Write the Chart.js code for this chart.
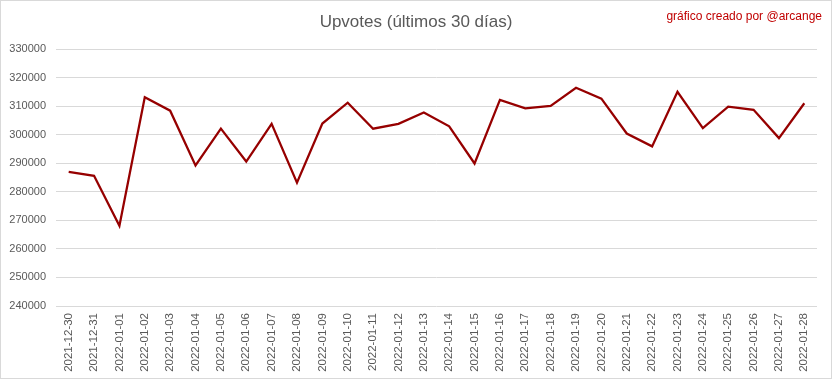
<!DOCTYPE html>
<html>
<head>
<meta charset="utf-8">
<script src="https://cdn.jsdelivr.net/npm/chart.js@4/dist/chart.umd.min.js"></script>
<style>
  body { margin: 0; background: #fff; }
  #wrap { width: 832px; height: 379px; position: relative; }
</style>
</head>
<body>
<div id="wrap"><canvas id="upvotes"></canvas></div>
<script>
const dias = [
  '2021-12-30', '2021-12-31', '2022-01-01', '2022-01-02', '2022-01-03',
  '2022-01-04', '2022-01-05', '2022-01-06', '2022-01-07', '2022-01-08',
  '2022-01-09', '2022-01-10', '2022-01-11', '2022-01-12', '2022-01-13',
  '2022-01-14', '2022-01-15', '2022-01-16', '2022-01-17', '2022-01-18',
  '2022-01-19', '2022-01-20', '2022-01-21', '2022-01-22', '2022-01-23',
  '2022-01-24', '2022-01-25', '2022-01-26', '2022-01-27', '2022-01-28'
];
const upvotes = [
  287000, 285600, 268100, 313100, 308400,
  289200, 302100, 290600, 303800, 283200,
  303900, 311200, 302100, 303800, 307800,
  302900, 289900, 312200, 309200, 310100,
  316400, 312600, 300400, 295900, 315000,
  302300, 309800, 308700, 298800, 311000
];
const yMin = 240000, yMax = 330000, yStep = 10000;

const titulo = 'Upvotes (últimos 30 días)';
const firma = 'gráfico creado por @arcange';

let ctx = document.getElementById('upvotes').getContext('2d');
let upvotesChart = new Chart(ctx, {
  type: 'line',
  data: {
    labels: dias,
    datasets: [{
      label: 'Upvotes',
      data: upvotes,
      borderColor: '#960000',
      borderWidth: 2.25,
      pointRadius: 0,
      tension: 0,
      fill: false
    }]
  },
  options: {
    responsive: true,
    maintainAspectRatio: false,
    animation: false,
    layout: { padding: { top: 49, right: 15, left: 0, bottom: 0 } },
    plugins: {
      legend: { display: false },
      tooltip: { enabled: false }
    },
    scales: {
      x: {
        offset: true,
        grid: { display: false, drawTicks: false },
        border: { display: false },
        ticks: {
          color: '#595959',
          font: { family: 'Liberation Sans', size: 11.5 },
          minRotation: 90,
          maxRotation: 90,
          autoSkip: false,
          padding: 7
        },
        afterFit: function (scale) { scale.height = 73; }
      },
      y: {
        min: yMin,
        max: yMax,
        grid: { color: '#d9d9d9', lineWidth: 1, drawTicks: false },
        border: { display: false },
        ticks: {
          stepSize: yStep,
          color: '#595959',
          font: { family: 'Liberation Sans', size: 11 },
          padding: 10,
          callback: function (v) { return String(v); }
        },
        afterFit: function (scale) { scale.width = 56; }
      }
    }
  },
  plugins: [{
    id: 'textos',
    afterDraw: function (chart) {
      let c = chart.ctx;
      c.save();
      c.textBaseline = 'middle';
      c.fillStyle = '#595959';
      c.font = '17px "Liberation Sans"';
      c.textAlign = 'center';
      c.fillText(titulo, 416, 22);
      c.fillStyle = '#c00000';
      c.font = '12px "Liberation Sans"';
      c.textAlign = 'right';
      c.fillText(firma, 822, 17);
      c.strokeStyle = '#d9d9d9';
      c.lineWidth = 1;
      c.strokeRect(0.5, 0.5, chart.width - 1, chart.height - 1);
      c.restore();
    }
  }]
});
</script>
</body>
</html>
